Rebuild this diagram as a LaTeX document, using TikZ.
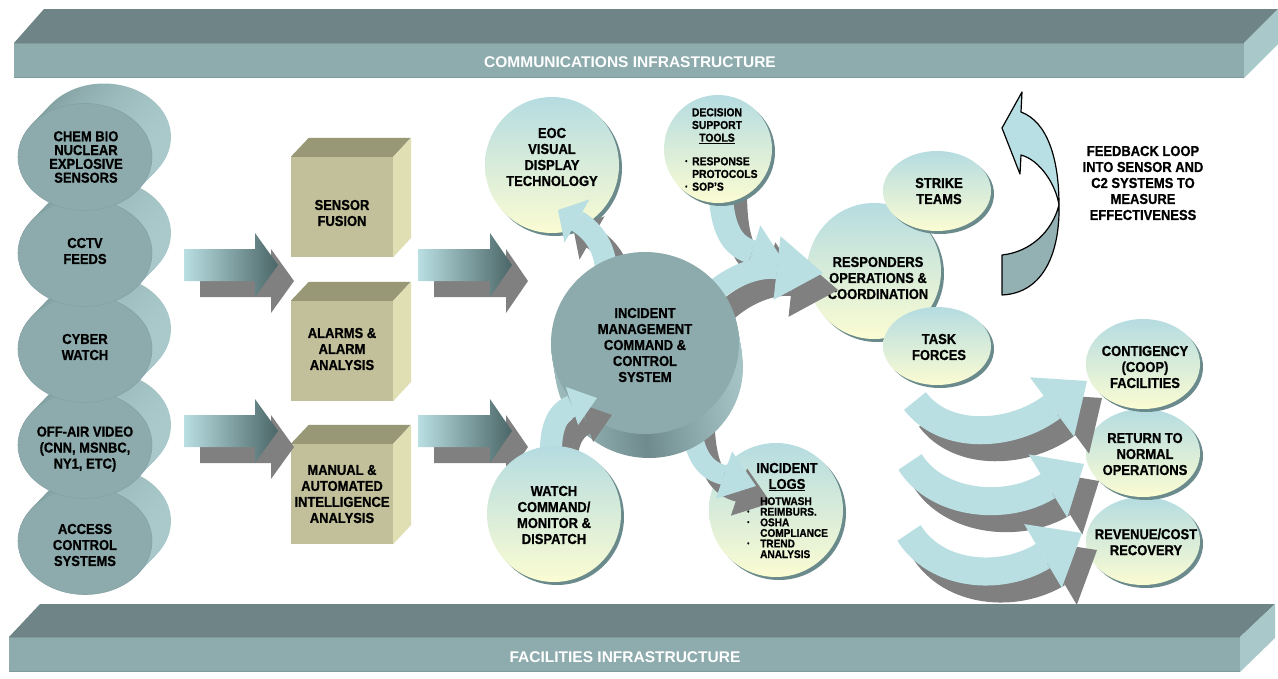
\documentclass[tikz,border=0pt]{standalone}
\usepackage{fontspec}
\newfontfamily\lblfont{Liberation Sans}[FakeStretch=0.9, BoldFeatures={FakeBold=0.8}]
\newfontfamily\barfont{Liberation Sans}
\usetikzlibrary{calc,shapes.geometric,shadows}
\definecolor{barTop}{HTML}{6E8486}
\definecolor{barFront}{HTML}{8EACAE}
\definecolor{barSide}{HTML}{A8C8CA}
\definecolor{barLine}{HTML}{7F9A9C}
\definecolor{cylFront}{HTML}{8DABAD}
\definecolor{cylEdge}{HTML}{84A1A3}
\definecolor{cylSideL}{HTML}{7E9B9D}
\definecolor{cylSideR}{HTML}{AACACC}
\definecolor{kF}{HTML}{C2C09A}
\definecolor{kT}{HTML}{989877}
\definecolor{kR}{HTML}{E0DFB3}
\definecolor{aLight}{HTML}{B9DFE3}
\definecolor{aDark}{HTML}{4B6667}
\definecolor{shGray}{HTML}{808080}
\definecolor{ellTop}{HTML}{B5DCE1}
\definecolor{ellBot}{HTML}{FBFCD2}
\definecolor{ellSh}{HTML}{6B8A8C}
\definecolor{fbLight}{HTML}{B8DFE3}
\definecolor{fbDark}{HTML}{93B1B3}
\definecolor{cenL}{HTML}{9FBDBF}
\definecolor{cenM}{HTML}{6F8B8D}
\definecolor{cenR}{HTML}{A6C4C6}

\tikzset{
  lab/.style={font=\lblfont\bfseries\fontsize{14.4}{16}\selectfont, align=center, inner sep=0pt, text=black},
  labtight/.style={lab, font=\lblfont\bfseries\fontsize{14.4}{13.8}\selectfont},
  smalllab/.style={font=\lblfont\bfseries\fontsize{11.5}{12.7}\selectfont, align=center, inner sep=0pt, text=black},
  smallerlab/.style={font=\lblfont\bfseries\fontsize{11.2}{10.6}\selectfont, align=left, inner sep=0pt, text=black},
  bartext/.style={font=\barfont\bfseries\fontsize{15.5}{16}\selectfont, text=white, inner sep=0pt},
  cylf/.style={ellipse, fill=cylFront, draw=cylEdge, line width=0.6pt, minimum width=134pt, minimum height=107pt, inner sep=0pt},
  lell/.style={ellipse, inner sep=0pt, top color=ellTop, bottom color=ellBot, drop shadow={shadow xshift=3pt, shadow yshift=-3pt, fill=ellSh, opacity=1}},
  cubef/.style={rectangle, fill=kF, minimum width=102pt, minimum height=100pt, inner sep=0pt},
}

\newcommand\bulA{\makebox[7pt][l]{\raisebox{1.8pt}{\fontsize{7}{7}\selectfont\textbullet}}}
\newcommand\nobA{\makebox[7pt][l]{}}
\newcommand\bulB{\makebox[13pt][l]{\raisebox{1.8pt}{\fontsize{7}{7}\selectfont\textbullet}}}
\newcommand\nobB{\makebox[13pt][l]{}}

% sweep of a cylinder side: cx cy rx ry dx dy shadeopts
\newcommand\cylside[7]{%
  \foreach \k in {1,...,12}{%
    \shade[#7] ({#1+#5*(13-\k)/12},{#2+#6*(13-\k)/12}) ellipse[x radius=#3pt, y radius=#4pt];
  }%
}
\newcommand\mkcube[3]{%
  \node[cubef] (#1) at (#2,#3) {};
  \fill[kT] (#1.north west) -- ++(18,-19) -- ++(102,0) -- (#1.north east) -- cycle;
  \fill[kR] (#1.north east) -- ++(18,-19) -- ++(0,100) -- (#1.south east) -- cycle;
}
% straight block arrow: name x0 x1 xtip yc
\newcommand\sarrow[5]{%
  \coordinate (#1-s) at (#2,#5); \coordinate (#1-t) at (#4,#5);
  \begin{scope}[shift={(16,16)}]
    \fill[shGray] (#2,#5-16) -- (#3,#5-16) -- (#3,#5-32) -- (#4,#5) -- (#3,#5+32) -- (#3,#5+16) -- (#2,#5+16) -- cycle;
  \end{scope}
  \shade[left color=aLight, right color=aDark] (#2,#5-16) -- (#3,#5-16) -- (#3,#5-32) -- (#4,#5) -- (#3,#5+32) -- (#3,#5+16) -- (#2,#5+16) -- cycle;
}
% curved block arrow: name start c1 c2 base tip bandwidth headhalfwidth
\newcommand\cbarrow[8]{%
  \coordinate (#1-s) at (#2); \coordinate (#1-a) at (#3); \coordinate (#1-b) at (#4);
  \coordinate (#1-e) at (#5); \coordinate (#1-t) at (#6);
  \begin{scope}[transform canvas={shift={(15pt,-17pt)}}]
    \draw[line width=#7pt, shGray] (#1-s) .. controls (#1-a) and (#1-b) .. (#1-e);
    \fill[shGray] (#1-t) -- ($(#1-e)!#8pt!90:(#1-t)$) -- ($(#1-e)!#8pt!-90:(#1-t)$) -- cycle;
  \end{scope}
  \draw[line width=#7pt, aLight] (#1-s) .. controls (#1-a) and (#1-b) .. (#1-e);
  \fill[aLight] (#1-t) -- ($(#1-e)!#8pt!90:(#1-t)$) -- ($(#1-e)!#8pt!-90:(#1-t)$) -- cycle;
}

\begin{document}
\begin{tikzpicture}[x=1pt,y=-1pt]
\useasboundingbox (0,0) rectangle (1278,678);
\fill[white] (0,0) rectangle (1278,678);

% ---- bars
\fill[barTop] (14,43) -- (44,9) -- (1278,9) -- (1244,43) -- cycle;
\fill[barSide] (1244,43) -- (1278,9) -- (1278,44) -- (1244,78) -- cycle;
\fill[barFront] (14,43) rectangle (1244,78);
\draw[barLine, line width=1.2pt] (14,43.6) -- (1244,43.6) (14,77.2) -- (1244,77.2);
\node[bartext] (comm) at (630,62) {COMMUNICATIONS INFRASTRUCTURE};

\fill[barTop] (9,637) -- (40,604) -- (1275,604) -- (1240,637) -- cycle;
\fill[barSide] (1240,637) -- (1275,604) -- (1275,638) -- (1240,672) -- cycle;
\fill[barFront] (9,637) rectangle (1240,672);
\draw[barLine, line width=1.2pt] (9,637.6) -- (1240,637.6) (9,671.2) -- (1240,671.2);
\node[bartext] (facil) at (625,657) {FACILITIES INFRASTRUCTURE};

% ---- left cylinders (bottom first)
\cylside{85}{541}{67}{53.5}{19}{-20}{left color=cylSideL, right color=cylSideR}
\node[cylf] (acc) at (85,541) {};
\node[lab] (accT) at (85,545) {ACCESS\\CONTROL\\SYSTEMS};
\cylside{85}{445}{67}{53.5}{19}{-20}{left color=cylSideL, right color=cylSideR}
\node[cylf] (off) at (85,445) {};
\node[lab] (offT) at (85,449) {OFF-AIR VIDEO\\(CNN, MSNBC,\\NY1, ETC)};
\cylside{85}{349}{67}{53.5}{19}{-20}{left color=cylSideL, right color=cylSideR}
\node[cylf] (cyb) at (85,349) {};
\node[lab] (cybT) at (85,347) {CYBER\\WATCH};
\cylside{85}{253}{67}{53.5}{19}{-20}{left color=cylSideL, right color=cylSideR}
\node[cylf] (cctv) at (85,253) {};
\node[lab] (cctvT) at (85,251) {CCTV\\FEEDS};
\cylside{85}{157}{67}{53.5}{19}{-20}{left color=cylSideL, right color=cylSideR}
\node[cylf] (chem) at (85,157) {};
\node[labtight] (chemT) at (86,157) {CHEM BIO\\NUCLEAR\\EXPLOSIVE\\SENSORS};

% ---- cubes
\mkcube{fus}{342}{207}
\node[lab] (fusT) at (342,213) {SENSOR\\FUSION};
\mkcube{alm}{342}{351}
\node[lab] (almT) at (342,349) {ALARMS \&\\ALARM\\ANALYSIS};
\mkcube{man}{342}{494}
\node[lab] (manT) at (342,494) {MANUAL \&\\AUTOMATED\\INTELLIGENCE\\ANALYSIS};

% ---- straight arrows
\sarrow{s1}{184}{255}{278}{265}
\sarrow{s2}{184}{255}{278}{431}
\sarrow{s3}{418}{490}{512}{265}
\sarrow{s4}{418}{490}{512}{431}

% ---- light ellipses
\node[lell, minimum width=134pt, minimum height=136pt] (eoc) at (552,165) {};
\node[lab] (eocT) at (552,157) {EOC\\VISUAL\\DISPLAY\\TECHNOLOGY};
\node[lell, minimum width=134pt, minimum height=136pt] (resp) at (874,271) {};
\node[lab] (respT) at (878,278) {RESPONDERS\\OPERATIONS \&\\COORDINATION};
\node[lell, minimum width=108pt, minimum height=80pt] (strike) at (937,191) {};
\node[lab] (strikeT) at (939,191) {STRIKE\\TEAMS};
\node[lell, minimum width=108pt, minimum height=78pt] (task) at (937,346) {};
\node[lab] (taskT) at (939,347) {TASK\\FORCES};
\node[lell, minimum width=134pt, minimum height=134pt] (logs) at (776,510) {};
\node[lell, minimum width=114pt, minimum height=88pt] (rev) at (1143,541) {};
\node[lab] (revT) at (1146,542) {REVENUE/COST\\RECOVERY};
\node[lell, minimum width=114pt, minimum height=88pt] (ret) at (1143,453) {};
\node[lab] (retT) at (1145,454) {RETURN TO\\NORMAL\\OPERATIONS};
\node[lell, minimum width=114pt, minimum height=90pt] (cont) at (1143,364) {};
\node[lab] (contT) at (1145,367) {CONTIGENCY\\(COOP)\\FACILITIES};

% ---- decision support arrow and ellipse
\cbarrow{dsa}{720,175}{720,232}{733,246}{752,252}{784,262}{24}{28}
\node[lell, minimum width=108pt, minimum height=108pt] (dst) at (718,149) {};
\node[smalllab] (dstT) at (717,126) {DECISION\\SUPPORT\\\underline{TOOLS}};
\node[smalllab, align=left, anchor=north west] (dstL) at (685,157) {\bulA RESPONSE\\\nobA PROTOCOLS\\\bulA SOP’S};

% ---- arrows out of the centre
\cbarrow{cra}{705,300}{728,276}{757,266}{777,268}{823,273}{22}{32}
\cbarrow{eoa}{606,268}{604,245}{592,230}{577,221}{558,210}{22}{25}
\cbarrow{lga}{690,415}{693,460}{708,471}{724,475}{756,486}{20}{25}
\node[lab] (logsT) at (787,477) {INCIDENT\\\underline{LOGS}};
\node[smallerlab, anchor=north west] (logsL) at (747,497) {\nobB HOTWASH\\\bulB REIMBURS.\\\bulB OSHA\\\nobB COMPLIANCE\\\bulB TREND\\\nobB ANALYSIS};

% ---- centre cylinder
\cylside{645}{343}{94}{91}{4}{24}{left color=cenL, right color=cenR, middle color=cenM}
\node[ellipse, fill=cylFront, minimum width=188pt, minimum height=182pt, inner sep=0pt] (imcc) at (645,343) {};
\node[lab] (imccT) at (645,345) {INCIDENT\\MANAGEMENT\\COMMAND \&\\CONTROL\\SYSTEM};

% ---- watch arrow and ellipse
\cbarrow{wa}{551,458}{550,428}{557,412}{572,406}{597,398}{22}{20}
\node[lell, minimum width=134pt, minimum height=136pt] (watch) at (554,514) {};
\node[lab] (watchT) at (554,515) {WATCH\\COMMAND/\\MONITOR \&\\DISPATCH};

% ---- bottom right arrows
\cbarrow{b1}{915,401}{945,441}{1012,437}{1052,407}{1087,381}{28}{37}
\cbarrow{b2}{910,462}{937,505}{1006,512}{1048,486}{1084,464}{28}{37}
\cbarrow{b3}{909,533}{936,576}{1000,582}{1043,556}{1082,533}{28}{37}

% ---- feedback loop arrow
\filldraw[fill=fbLight, draw=black, line width=1.2pt, line join=round] (1022,92) -- (1021,112) .. controls (1048,122) and (1059,160) .. (1059,205) .. controls (1056,185) and (1040,160) .. (1021,155) -- (1020,174) -- (1002,128) -- cycle;
\filldraw[fill=fbDark, draw=black, line width=1.2pt, line join=round] (1059,205) .. controls (1060,250) and (1045,293) .. (1002,295) -- (1002,255) .. controls (1030,252) and (1052,232) .. (1059,205) -- cycle;
\node[lab] (fbT) at (1143,183) {FEEDBACK LOOP\\INTO SENSOR AND\\C2 SYSTEMS TO\\MEASURE\\EFFECTIVENESS};
\end{tikzpicture}
\end{document}
